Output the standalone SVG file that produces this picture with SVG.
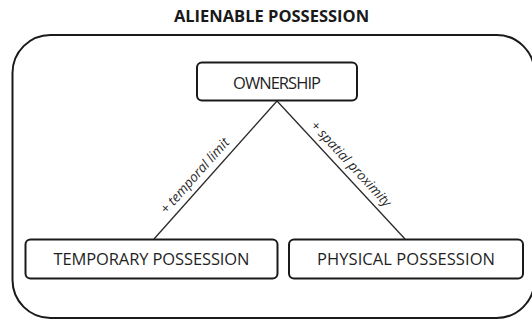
<svg xmlns="http://www.w3.org/2000/svg" width="532" height="321" viewBox="0 0 532 321">
  <style>
    .frame { fill: none; stroke: #1a1a1a; stroke-width: 2; }
    .box { fill: #ffffff; stroke: #1a1a1a; stroke-width: 2; }
    .node-text { font-family: "Open Sans", "Noto Sans", sans-serif; font-size: 16.5px; fill: #1f1f1f; text-anchor: middle; }
    .title { font-family: "Open Sans", "Noto Sans", sans-serif; font-size: 16.5px; font-weight: bold; fill: #1a1a1a; text-anchor: middle; }
    .edge { fill: none; stroke: #2a2a2a; stroke-width: 1.3; }
    .edge-label { font-family: "Open Sans", "Noto Sans", sans-serif; font-size: 13.5px; font-style: italic; fill: #2a2a2a; text-anchor: middle; }
  </style>
  <rect width="532" height="321" fill="#ffffff"/>
  <text class="title" x="271.5" y="21.5">ALIENABLE POSSESSION</text>
  <rect class="frame" x="12.5" y="35" width="522" height="283" rx="38" ry="38"/>
  <g id="connectors">
    <line class="edge" x1="277" y1="101" x2="154" y2="239"/>
    <line class="edge" x1="277" y1="101" x2="405" y2="239"/>
    <text class="edge-label" transform="translate(198.2,178.8) rotate(-48.3)">+ temporal limit</text>
    <text class="edge-label" transform="translate(347.7,166.9) rotate(47.2)">+ spatial proximity</text>
  </g>
  <g id="ownership">
    <rect class="box" x="197" y="62.5" width="160" height="38" rx="5" ry="5"/>
    <text class="node-text" x="277" y="88.5" textLength="88">OWNERSHIP</text>
  </g>
  <g id="temporary-possession">
    <rect class="box" x="25.5" y="239.5" width="252" height="39" rx="5" ry="5"/>
    <text class="node-text" x="151.5" y="265" textLength="196">TEMPORARY POSSESSION</text>
  </g>
  <g id="physical-possession">
    <rect class="box" x="289" y="239.5" width="234" height="39" rx="5" ry="5"/>
    <text class="node-text" x="406" y="265" textLength="178">PHYSICAL POSSESSION</text>
  </g>
</svg>
